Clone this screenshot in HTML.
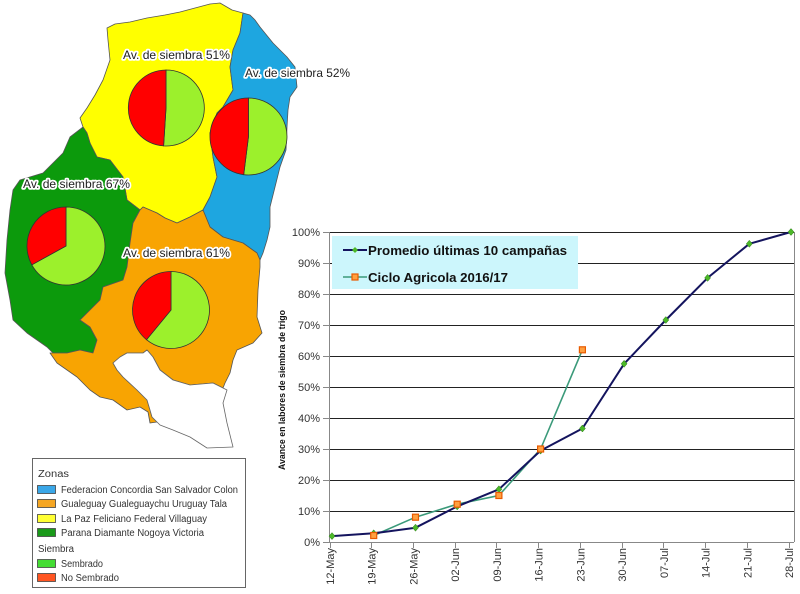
<!DOCTYPE html>
<html><head><meta charset="utf-8"><style>
html,body{margin:0;padding:0;background:#fff;}
svg{display:block;}
text{font-family:"Liberation Sans",Arial,sans-serif;}
</style></head><body>
<svg width="800" height="594" viewBox="0 0 800 594" xmlns="http://www.w3.org/2000/svg">
<rect width="800" height="594" fill="#fff"/>
<!-- MAP -->
<g stroke="#555" stroke-width="0.8" stroke-linejoin="round">
<polygon fill="#ffff00" points="107,28 115,24 130,22 147,18 165,15 180,12 195,8 210,4 220,3 232,10 243,13 240,33 233,50 230,67 233,90 223,107 217,113 210,133 213,157 217,177 210,197 203,210 190,217 177,223 165,218 157,213 143,207 140,210 127,200 123,177 110,160 97,157 90,143 87,133 83,127 80,118 87,108 95,95 103,80 110,60 108,40"/>
<polygon fill="#1ea6e0" points="243,13 250,15 255,20 260,27 273,43 287,57 295,67 297,87 290,97 288,110 287,127 286,150 280,167 275,187 270,207 270,227 267,240 263,253 260,260 257,253 243,243 223,237 210,227 203,210 210,197 217,177 213,157 210,133 217,113 223,107 233,90 230,67 233,50 240,33"/>
<polygon fill="#0c9a0c" points="83,127 70,137 63,153 43,173 20,180 13,190 10,210 7,240 5,273 10,300 13,320 27,333 47,347 53,353 67,353 80,350 93,353 97,340 90,327 80,320 87,313 100,300 103,287 123,280 127,267 130,243 133,223 140,210 127,200 123,177 110,160 97,157 90,143 87,133"/>
<polygon fill="#f8a402" points="140,210 143,207 157,213 165,218 177,223 190,217 203,210 210,227 223,237 243,243 257,253 260,260 260,267 258,290 257,317 262,333 253,343 237,350 233,360 230,373 225,383 223,388 213,383 190,385 173,380 160,370 153,357 147,350 143,353 127,353 120,357 113,363 117,370 123,377 137,390 147,400 150,410 152,417 157,422 150,423 148,412 140,407 127,410 113,400 100,397 90,390 77,377 57,363 50,353 53,353 67,353 80,350 93,353 97,340 90,327 80,320 87,313 100,300 103,287 123,280 127,267 130,243 133,223"/>
<polygon fill="#fff" stroke="#666" points="223,388 227,390 223,403 227,423 233,447 207,448 190,437 173,430 160,425 157,422 152,417 150,410 147,400 137,390 123,377 117,370 113,363 120,357 127,353 143,353 147,350 153,357 160,370 173,380 190,385 213,383"/>
</g>
<!-- PIES -->
<g stroke="#333" stroke-width="0.8">
<path fill="#9cf02c" d="M166,108 L166,70 A38,38 0 1 1 163.6,145.9 Z"/>
<path fill="#ff0000" d="M166,108 L163.6,145.9 A38,38 0 0 1 166,70 Z"/>
<path fill="#9cf02c" d="M248.5,136.5 L248.5,98 A38.5,38.5 0 1 1 243.7,174.7 Z"/>
<path fill="#ff0000" d="M248.5,136.5 L243.7,174.7 A38.5,38.5 0 0 1 248.5,98 Z"/>
<path fill="#9cf02c" d="M66,246 L66,207 A39,39 0 1 1 31.8,264.8 Z"/>
<path fill="#ff0000" d="M66,246 L31.8,264.8 A39,39 0 0 1 66,207 Z"/>
<path fill="#9cf02c" d="M171,310 L171,271.5 A38.5,38.5 0 1 1 146.5,339.7 Z"/>
<path fill="#ff0000" d="M171,310 L146.5,339.7 A38.5,38.5 0 0 1 171,271.5 Z"/>
</g>
<g font-size="12" fill="#fff" stroke="#fff" stroke-width="3.5" stroke-linejoin="round">
<text x="123" y="59" textLength="107" lengthAdjust="spacingAndGlyphs">Av. de siembra 51%</text>
<text x="245" y="77" textLength="105" lengthAdjust="spacingAndGlyphs">Av. de siembra 52%</text>
<text x="23" y="188" textLength="107" lengthAdjust="spacingAndGlyphs">Av. de siembra 67%</text>
<text x="123" y="257" textLength="107" lengthAdjust="spacingAndGlyphs">Av. de siembra 61%</text>
</g>
<g font-size="12" fill="#222">
<text x="123" y="59" textLength="107" lengthAdjust="spacingAndGlyphs">Av. de siembra 51%</text>
<text x="245" y="77" textLength="105" lengthAdjust="spacingAndGlyphs">Av. de siembra 52%</text>
<text x="23" y="188" textLength="107" lengthAdjust="spacingAndGlyphs">Av. de siembra 67%</text>
<text x="123" y="257" textLength="107" lengthAdjust="spacingAndGlyphs">Av. de siembra 61%</text>
</g>
<!-- MAP LEGEND -->
<rect x="32.5" y="458.5" width="213" height="129" fill="#fff" stroke="#666" stroke-width="1"/>
<g font-size="10" fill="#333">
<text x="38" y="477" textLength="31" lengthAdjust="spacingAndGlyphs">Zonas</text>
<text x="61" y="493" textLength="177" lengthAdjust="spacingAndGlyphs">Federacion Concordia San Salvador Colon</text>
<text x="61" y="507" textLength="166" lengthAdjust="spacingAndGlyphs">Gualeguay Gualeguaychu Uruguay  Tala</text>
<text x="61" y="522" textLength="146" lengthAdjust="spacingAndGlyphs">La Paz Feliciano Federal  Villaguay</text>
<text x="61" y="536" textLength="143" lengthAdjust="spacingAndGlyphs">Parana Diamante Nogoya Victoria</text>
<text x="38" y="552" textLength="36" lengthAdjust="spacingAndGlyphs">Siembra</text>
<text x="61" y="567" textLength="42" lengthAdjust="spacingAndGlyphs">Sembrado</text>
<text x="61" y="581" textLength="58" lengthAdjust="spacingAndGlyphs">No Sembrado</text>
</g>
<g stroke="#444" stroke-width="0.8">
<rect x="37.5" y="485.5" width="18" height="8" fill="#3aa7e8"/>
<rect x="37.5" y="499.5" width="18" height="8" fill="#f5a623"/>
<rect x="37.5" y="514.5" width="18" height="8" fill="#ffff33"/>
<rect x="37.5" y="528.5" width="18" height="8" fill="#1a9a1a"/>
<rect x="37.5" y="559.5" width="18" height="8" fill="#44dd33"/>
<rect x="37.5" y="573.5" width="18" height="8" fill="#ff5522"/>
</g>
<!-- CHART -->
<g stroke="#222" stroke-width="1">
<line x1="329" y1="232.5" x2="794" y2="232.5"/>
<line x1="329" y1="263.5" x2="794" y2="263.5"/>
<line x1="329" y1="294.5" x2="794" y2="294.5"/>
<line x1="329" y1="325.5" x2="794" y2="325.5"/>
<line x1="329" y1="356.5" x2="794" y2="356.5"/>
<line x1="329" y1="387.5" x2="794" y2="387.5"/>
<line x1="329" y1="418.5" x2="794" y2="418.5"/>
<line x1="329" y1="449.5" x2="794" y2="449.5"/>
<line x1="329" y1="480.5" x2="794" y2="480.5"/>
<line x1="329" y1="511.5" x2="794" y2="511.5"/>
</g>
<g stroke="#888" stroke-width="1" fill="none">
<line x1="329.5" y1="232" x2="329.5" y2="542"/>
<line x1="794.5" y1="232" x2="794.5" y2="542"/>
<line x1="323" y1="542.5" x2="794" y2="542.5"/>
<path d="M323,232.5h6M323,263.5h6M323,294.5h6M323,325.5h6M323,356.5h6M323,387.5h6M323,418.5h6M323,449.5h6M323,480.5h6M323,511.5h6"/>
<path d="M330.5,542v6M371.5,542v6M413.5,542v6M455.5,542v6M496.5,542v6M538.5,542v6M580.5,542v6M622.5,542v6M663.5,542v6M705.5,542v6M747.5,542v6M789.5,542v6"/>
</g>
<g font-size="11" fill="#333" text-anchor="end">
<text x="320" y="236">100%</text>
<text x="320" y="267">90%</text>
<text x="320" y="298">80%</text>
<text x="320" y="329">70%</text>
<text x="320" y="360">60%</text>
<text x="320" y="391">50%</text>
<text x="320" y="422">40%</text>
<text x="320" y="453">30%</text>
<text x="320" y="484">20%</text>
<text x="320" y="515">10%</text>
<text x="320" y="546">0%</text>
</g>
<g font-size="11" fill="#333" text-anchor="end">
<text transform="translate(334,548) rotate(-90)">12-May</text>
<text transform="translate(375.7,548) rotate(-90)">19-May</text>
<text transform="translate(417.5,548) rotate(-90)">26-May</text>
<text transform="translate(459.2,548) rotate(-90)">02-Jun</text>
<text transform="translate(500.9,548) rotate(-90)">09-Jun</text>
<text transform="translate(542.6,548) rotate(-90)">16-Jun</text>
<text transform="translate(584.4,548) rotate(-90)">23-Jun</text>
<text transform="translate(626.1,548) rotate(-90)">30-Jun</text>
<text transform="translate(667.8,548) rotate(-90)">07-Jul</text>
<text transform="translate(709.6,548) rotate(-90)">14-Jul</text>
<text transform="translate(751.3,548) rotate(-90)">21-Jul</text>
<text transform="translate(793,548) rotate(-90)">28-Jul</text>
</g>
<text transform="translate(285,390) rotate(-90)" font-size="9" font-weight="bold" fill="#111" text-anchor="middle" textLength="160" lengthAdjust="spacingAndGlyphs">Avance en labores de siembra de trigo</text>
<!-- series -->
<polyline fill="none" stroke="#3b9a7a" stroke-width="1.6" points="373.7,535.5 415.5,517.2 457.2,504.2 498.9,495.5 540.6,449 582.4,349.8"/>
<polyline fill="none" stroke="#14145e" stroke-width="2" stroke-linejoin="round" points="332,536.1 373.7,533.3 415.5,527.7 457.2,506.4 498.9,489.3 540.6,450.6 582.4,428.5 624.1,363.8 665.8,320 707.6,277.9 749.3,243.8 791,232"/>
<g fill="#4cb828" stroke="#2a7a18" stroke-width="0.5">
<path d="M332,532.6l3,3.5l-3,3.5l-3,-3.5z"/>
<path d="M373.7,529.8l3,3.5l-3,3.5l-3,-3.5z"/>
<path d="M415.5,524.2l3,3.5l-3,3.5l-3,-3.5z"/>
<path d="M457.2,502.9l3,3.5l-3,3.5l-3,-3.5z"/>
<path d="M498.9,485.8l3,3.5l-3,3.5l-3,-3.5z"/>
<path d="M540.6,447.1l3,3.5l-3,3.5l-3,-3.5z"/>
<path d="M582.4,425l3,3.5l-3,3.5l-3,-3.5z"/>
<path d="M624.1,360.3l3,3.5l-3,3.5l-3,-3.5z"/>
<path d="M665.8,316.5l3,3.5l-3,3.5l-3,-3.5z"/>
<path d="M707.6,274.4l3,3.5l-3,3.5l-3,-3.5z"/>
<path d="M749.3,240.3l3,3.5l-3,3.5l-3,-3.5z"/>
<path d="M791,228.5l3,3.5l-3,3.5l-3,-3.5z"/>
</g>
<g fill="#ffa040" stroke="#e85a00" stroke-width="1.2">
<rect x="370.7" y="532.5" width="6" height="6"/>
<rect x="412.5" y="514.2" width="6" height="6"/>
<rect x="454.2" y="501.2" width="6" height="6"/>
<rect x="495.9" y="492.5" width="6" height="6"/>
<rect x="537.6" y="446" width="6" height="6"/>
<rect x="579.4" y="346.8" width="6" height="6"/>
</g>
<!-- chart legend -->
<rect x="332" y="236" width="246" height="53" fill="#ccf6fc"/>
<line x1="343" y1="250" x2="367" y2="250" stroke="#14145e" stroke-width="2"/>
<path d="M355,247l3,3l-3,3l-3,-3z" fill="#4cb828"/>
<line x1="343" y1="277" x2="367" y2="277" stroke="#3b9a7a" stroke-width="1.6"/>
<rect x="352" y="274" width="6" height="6" fill="#ffa040" stroke="#e85a00" stroke-width="1.2"/>
<g font-size="13" font-weight="bold" fill="#111">
<text x="368" y="255" textLength="199" lengthAdjust="spacingAndGlyphs">Promedio últimas 10 campañas</text>
<text x="368" y="282" textLength="140" lengthAdjust="spacingAndGlyphs">Ciclo Agricola 2016/17</text>
</g>
</svg>
</body></html>
